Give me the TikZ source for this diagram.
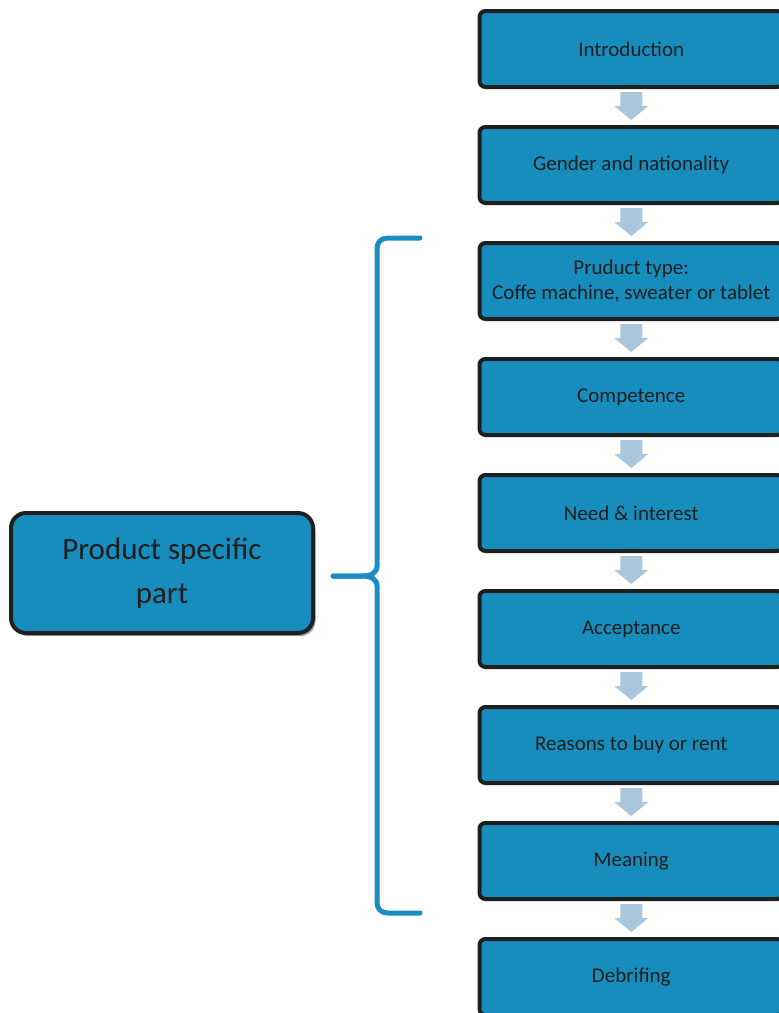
\documentclass[tikz,border=0pt]{standalone}
\usepackage{fontspec}
\setmainfont{Carlito}
\usetikzlibrary{calc}
\definecolor{boxblue}{HTML}{178DBD}
\definecolor{arrowblue}{HTML}{A9C6DD}
\definecolor{braceblue}{HTML}{1A8DC0}
\definecolor{textdark}{HTML}{1E1E1E}
\definecolor{shadowgray}{HTML}{8FA4B3}
\tikzset{
  stepbox/.style={draw=black!88, line width=4pt, fill=boxblue, rounded corners=6pt,
    minimum width=303.5pt, minimum height=76pt, inner sep=0pt,
    text=textdark, font=\fontsize{21}{25}\selectfont, align=center},
  partbox/.style={draw=black!88, line width=4pt, fill=boxblue, rounded corners=15pt,
    minimum width=302pt, minimum height=120pt, inner sep=0pt,
    text=textdark, font=\fontsize{31}{44}\selectfont, align=center},
  flowarrow/.style={fill=arrowblue, draw=none},
  bracket/.style={draw=braceblue, line width=5pt, line cap=round, line join=round}
}
\begin{document}
\begin{tikzpicture}[x=1pt,y=-1pt]
\useasboundingbox (0,0) rectangle (779,1013);
\clip (0,0) rectangle (779,1013);

% process steps
\node[stepbox] (s1) at (631.25,49)  {Introduction};
\node[stepbox] (s2) at (631.25,165) {Gender and nationality};
\node[stepbox] (s3) at (631.25,281) {Pruduct type:\\Coffe machine, sweater or tablet};
\node[stepbox] (s4) at (631.25,397) {Competence};
\node[stepbox] (s5) at (631.25,513) {Need \& interest};
\node[stepbox] (s6) at (631.25,629) {Acceptance};
\node[stepbox] (s7) at (631.25,745) {Reasons to buy or rent};
\node[stepbox] (s8) at (631.25,861) {Meaning};
\node[stepbox] (s9) at (631.25,977) {Debrifing};

% block arrows between consecutive steps
\foreach \a/\b in {s1/s2,s2/s3,s3/s4,s4/s5,s5/s6,s6/s7,s7/s8,s8/s9}{
  \fill[flowarrow] ($(\a.south)+(-11,3)$) -- ($(\a.south)+(11,3)$)
    -- ($(\a.south)+(11,17)$) -- ($(\a.south)+(17,17)$)
    -- ($(\b.north)+(0,-5)$)
    -- ($(\a.south)+(-17,17)$) -- ($(\a.south)+(-11,17)$) -- cycle;
}

% grouping label with its soft shadow
\fill[shadowgray, rounded corners=15pt] (13.5,516) rectangle (315.5,636);
\node[partbox] (part) at (162,573) {Product specific\\part};

% curly bracket spanning the product specific steps
\coordinate (btop) at (420,238);
\coordinate (bbot) at (420,913);
\coordinate (btip) at (333,576);
\draw[bracket] (btop) -- (388,238) .. controls (381,238) and (377,242) .. (377,249)
  -- (377,566) .. controls (377,573) and (371,576) .. (362,576) -- (btip);
\draw[bracket] (btip) -- (362,576) .. controls (371,576) and (377,579) .. (377,586)
  -- (377,902) .. controls (377,909) and (381,913) .. (388,913) -- (bbot);
\end{tikzpicture}
\end{document}
